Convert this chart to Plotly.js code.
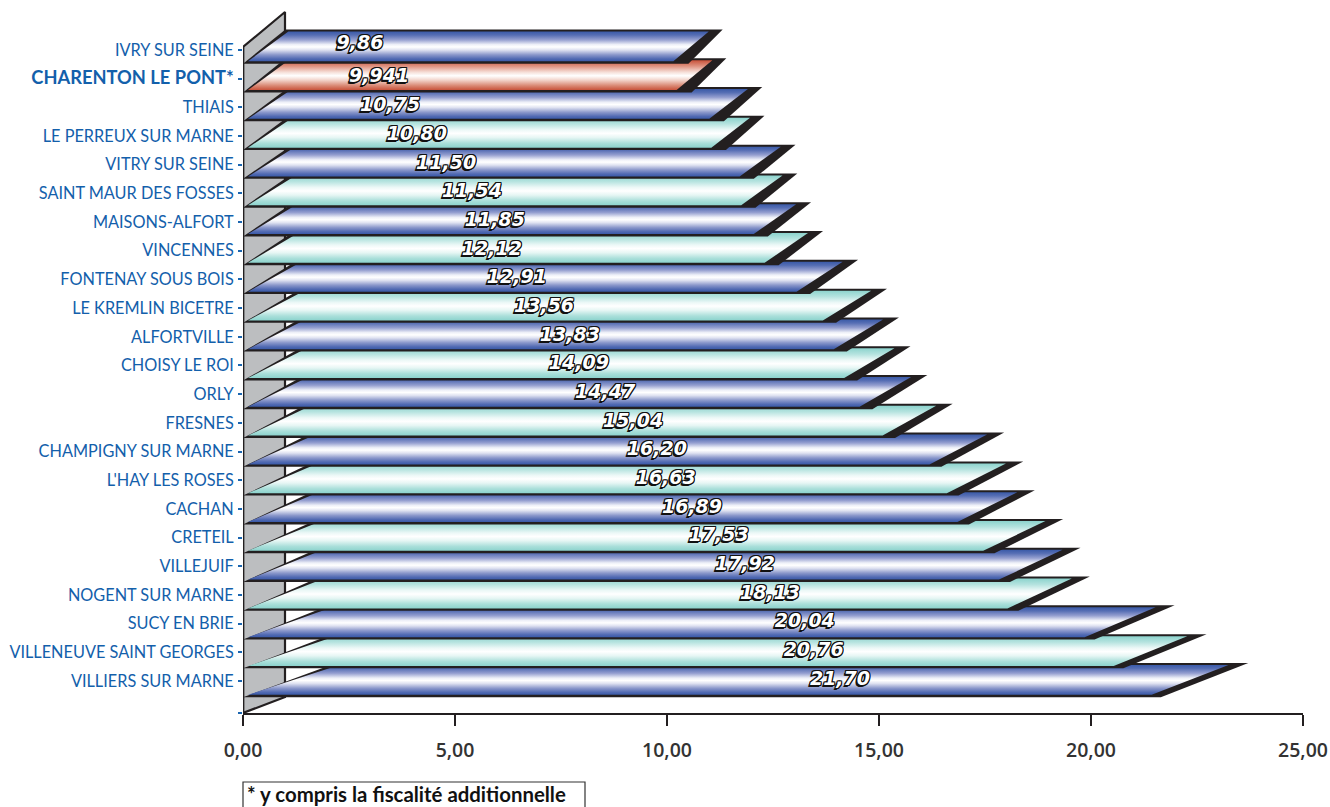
<!DOCTYPE html>
<html><head><meta charset="utf-8">
<script src="https://cdn.plot.ly/plotly-3.0.1.min.js"></script>
<style>html,body{margin:0;padding:0;background:#fff;overflow:hidden}#c{width:1330px;height:807px}</style>
</head><body><div id="c"></div>
<script>
// ---- data ----
const communes = ["IVRY SUR SEINE","CHARENTON LE PONT*","THIAIS","LE PERREUX SUR MARNE","VITRY SUR SEINE","SAINT MAUR DES FOSSES","MAISONS-ALFORT","VINCENNES","FONTENAY SOUS BOIS","LE KREMLIN BICETRE","ALFORTVILLE","CHOISY LE ROI","ORLY","FRESNES","CHAMPIGNY SUR MARNE","L'HAY LES ROSES","CACHAN","CRETEIL","VILLEJUIF","NOGENT SUR MARNE","SUCY EN BRIE","VILLENEUVE SAINT GEORGES","VILLIERS SUR MARNE"];
const taux = [9.86,9.941,10.75,10.80,11.50,11.54,11.85,12.12,12.91,13.56,13.83,14.09,14.47,15.04,16.20,16.63,16.89,17.53,17.92,18.13,20.04,20.76,21.70];
const tauxLabels = ["9,86","9,941","10,75","10,80","11,50","11,54","11,85","12,12","12,91","13,56","13,83","14,09","14,47","15,04","16,20","16,63","16,89","17,53","17,92","18,13","20,04","20,76","21,70"];
const labelAnchors = [2.76,3.21,3.47,4.10,4.79,5.40,5.94,5.87,6.46,7.10,7.71,7.92,8.54,9.20,9.76,9.97,10.59,11.22,11.84,12.43,13.25,13.46,14.08];
const xTicks = [0,5,10,15,20,25];
const xTickLabels = ["0,00","5,00","10,00","15,00","20,00","25,00"];
const footnote = "* y compris la fiscalité additionnelle";

// ---- geometry helpers (data units) ----
const PXX = 42.4, PXY = 28.68;
const yBottomAxis = (713-50)/PXY, yTopAxis = (0-50)/PXY;
const wallDepth = 42/PXX;
const colours = {
  blue:[[0,'#3a5aa8'],[.12,'#566eb4'],[.28,'#959fd0'],[.44,'#eef0f8'],[.52,'#ffffff'],[.62,'#dfe2f1'],[.78,'#8b98cb'],[.92,'#5069b2'],[1,'#3a5aa8']],
  cyan:[[0,'#8cd3cd'],[.2,'#b5e3df'],[.4,'#ecf8f7'],[.52,'#ffffff'],[.66,'#e6f6f4'],[.85,'#aadfda'],[1,'#8cd3cd']],
  red:[[0,'#c8523a'],[.2,'#df9381'],[.4,'#f6dfd8'],[.52,'#ffffff'],[.66,'#f3d6cd'],[.85,'#da8a75'],[1,'#c8523a']]
};
const INK = '#231f20';
const traces = [];
function poly(xs, ys, extra){
  traces.push(Object.assign({type:'scatter',mode:'lines',x:xs.concat(xs[0]),y:ys.concat(ys[0]),fill:'toself',line:{width:0,color:'rgba(0,0,0,0)'},hoverinfo:'skip',showlegend:false},extra));
}
// side wall
poly([0,wallDepth,wallDepth,0],[yBottomAxis,(697-50)/PXY,(12-50)/PXY,(47-50)/PXY],{fillcolor:'#bcbec0',line:{width:2.2,color:INK}});
// bars, lowest row first so that upper rows overlap
for(let i=taux.length-1;i>=0;i--){
  const v=taux[i];
  const yb=0.435+1.004*i, yt=yb-33/PXY;
  const br=0.755+0.9528*v;               // front end of the bar
  const tip=wallDepth+1.047*v;           // back end of the bar
  const tl=0.1014*v;                     // back start of the bar
  poly([0,br+(20-0.5*v)/PXX,tip,tl],[yb+1.2/PXY,yb+1.2/PXY,yt,yt],{fillcolor:INK});
  const top=yt+2/PXY, bot=yb-1.2/PXY;
  const c = i===1?colours.red:(i===2||i%2===0?colours.blue:colours.cyan);
  poly([5/PXX,br,tip-(9+0.5*v)/PXX,tl+3/PXX],[bot,bot,top,top],{fillcolor:'#fff',fillgradient:{type:'vertical',colorscale:c,start:top,stop:bot}});
}
// vertical axis stroke on top of the bars
traces.push({type:'scatter',mode:'lines',x:[0,0],y:[yBottomAxis,(47-50)/PXY],line:{width:2.6,color:INK},hoverinfo:'skip',showlegend:false});
// value labels
traces.push({type:'scatter',mode:'text',x:labelAnchors,y:taux.map((_,i)=>i-(i===0?0.2:i===1?0.05:0.03)),text:tauxLabels,textposition:'middle center',hoverinfo:'skip',showlegend:false,cliponaxis:false,
  textfont:{family:'"DejaVu Sans",sans-serif',size:19,color:'#ffffff',style:'italic',weight:700,
    shadow:'1px 0 0 #111,-1px 0 0 #111,0 1px 0 #111,0 -1px 0 #111,1px 1px 0 #111,-1px -1px 0 #111,1px -1px 0 #111,-1px 1px 0 #111,-2px 2px 0 #111,-1px 2px 0 #111'}});

const layout = {
  width:1330,height:807,margin:{l:243,r:27,t:0,b:94,pad:0},paper_bgcolor:'#fff',plot_bgcolor:'#fff',showlegend:false,
  xaxis:{range:[0,25],tickvals:xTicks,ticktext:xTickLabels,ticks:'outside',ticklen:11,tickwidth:2,tickcolor:INK,showgrid:false,zeroline:false,showline:true,linecolor:INK,linewidth:1.5,ticklabelstandoff:8,tickfont:{family:'"Open Sans",sans-serif',size:19.5,color:'#333333',weight:600}},
  yaxis:{range:[yBottomAxis,yTopAxis],tickvals:communes.map((_,i)=>i).concat(yBottomAxis),ticktext:communes.map((c,i)=>i===1?'<b style="font-size:18.3px">'+c+'</b>':c).concat(''),ticks:'outside',ticklen:4,tickwidth:2,tickcolor:'#1b66b0',showgrid:false,zeroline:false,showline:false,ticklabelstandoff:1,tickfont:{family:'Lato,sans-serif',size:16.3,color:'#1360ab'}},
  shapes:[{type:'rect',xref:'paper',yref:'paper',x0:0,x1:(585-243)/1060,y0:(713-812)/713,y1:(713-782)/713,line:{color:'#333',width:1.2},fillcolor:'#fff'}],
  annotations:[{xref:'x',yref:'paper',x:3/PXX,y:0,xanchor:'left',yanchor:'top',yshift:-67.5,borderpad:0,text:footnote,showarrow:false,font:{family:'Lato,sans-serif',size:20.4,color:'#111',weight:700},align:'left'}]
};
Plotly.newPlot('c',traces,layout,{staticPlot:true,displayModeBar:false});
</script></body></html>
